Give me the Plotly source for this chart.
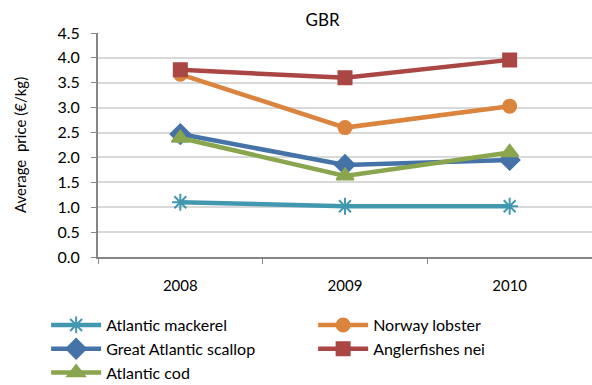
import plotly.graph_objects as go

years = ["2008", "2009", "2010"]
mackerel = [1.10, 1.02, 1.02]
lobster = [3.67, 2.60, 3.03]
scallop = [2.47, 1.85, 1.95]
angler = [3.76, 3.60, 3.96]
cod = [2.39, 1.63, 2.10]

series = [
    ("Atlantic mackerel", mackerel, "#4198AF", "asterisk-open", 14),
    ("Norway lobster", lobster, "#DB843D", "circle", 13),
    ("Great Atlantic scallop", scallop, "#4572A7", "diamond", 15),
    ("Anglerfishes nei", angler, "#AA4643", "square", 13),
    ("Atlantic cod", cod, "#89A54E", "triangle-up", 15),
]

fig = go.Figure()
for name, vals, col, sym, sz in series:
    fig.add_trace(go.Scatter(
        x=years, y=vals, name=name, mode="lines+markers",
        line=dict(color=col, width=4.5),
        marker=dict(symbol=sym, size=sz, color=col, line=dict(color=col, width=2)),
    ))

font = "Lato, 'Liberation Sans', sans-serif"
fig.update_layout(
    width=592, height=385,
    margin=dict(l=98, r=0, t=33, b=128, autoexpand=False),
    paper_bgcolor="white", plot_bgcolor="white",
    font=dict(family=font, size=14, color="#000000"),
    title=dict(text="GBR", x=0.545, xanchor="center", y=0.948, yanchor="middle",
               font=dict(size=17)),
    xaxis=dict(type="category", range=[-0.5, 2.5], showgrid=False,
               showline=True, linecolor="#868686", linewidth=2,
               ticks="outside", tickson="boundaries", ticklen=5, tickcolor="#868686",
               tickfont=dict(size=15), ticklabelstandoff=14),
    yaxis=dict(range=[0, 4.5], dtick=0.5, tickformat=".1f",
               gridcolor="#D9D9D9", gridwidth=2,
               showline=True, linecolor="#868686", linewidth=2,
               ticks="outside", ticklen=5, tickcolor="#868686",
               tickfont=dict(size=16), ticklabelstandoff=8,
               title=dict(text="Average  price (€/kg)", font=dict(size=15), standoff=27)),
    legend=dict(orientation="h", x=-0.105, xanchor="left", y=-0.228, yanchor="top",
                entrywidth=202, entrywidthmode="pixels", tracegroupgap=0,
                font=dict(size=16), itemwidth=50),
    showlegend=True,
)

fig.write_html("out.html", config={"displayModeBar": False},
               post_script="document.body.style.margin='0';")
